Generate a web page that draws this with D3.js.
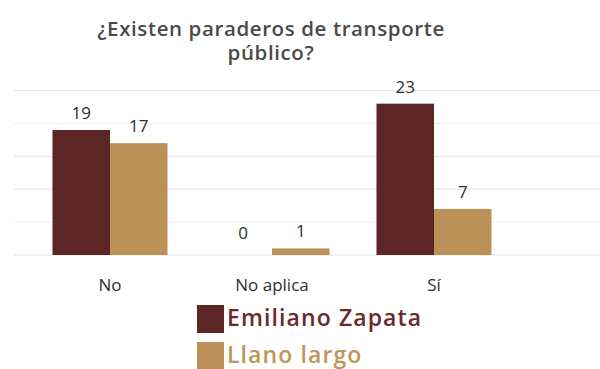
<!DOCTYPE html>
<html>
<head>
<meta charset="utf-8">
<script src="https://cdn.jsdelivr.net/npm/d3@7"></script>
<style>
  body { margin: 0; background: #fff; }
  svg { display: block; font-family: "Open Sans", sans-serif; }
</style>
</head>
<body>
<div id="chart"></div>
<script>
// data
let categories = ["No", "No aplica", "Sí"];
let series_names = ["Emiliano Zapata", "Llano largo"];
let emiliano_zapata = [19, 0, 23];
let llano_largo = [17, 1, 7];
let y_ticks = [0, 5, 10, 15, 20, 25];
let colors = ["#5c2627", "#bc9158"];

let width = 600, height = 369;

let svg = d3.select("#chart")
  .append("svg")
  .attr("width", width)
  .attr("height", height);

// scales
let x = d3.scaleBand()
  .domain(categories)
  .range([29, 515])
  .paddingInner(0.29)
  .paddingOuter(0.145);

let x_inner = d3.scaleBand()
  .domain(series_names)
  .range([0, x.bandwidth()]);

let y = d3.scaleLinear()
  .domain([0, 25])
  .range([255, 90.5]);

// gridlines
svg.append("g")
  .selectAll("line")
  .data(y_ticks)
  .enter()
  .append("line")
  .attr("x1", 14)
  .attr("x2", width)
  .attr("y1", d => y(d))
  .attr("y2", d => y(d))
  .attr("stroke", d => (d == 5 || d == 20) ? "#efefef" : "#e2e2e2")
  .attr("stroke-width", 1);

// title (two lines)
svg.selectAll(".title")
  .data(["¿Existen paraderos de transporte", "público?"])
  .enter()
  .append("text")
  .attr("class", "title")
  .attr("x", 271)
  .attr("y", (d, i) => 36 + i * 24)
  .attr("text-anchor", "middle")
  .style("font-size", "20.5px")
  .style("font-weight", 600)
  .style("letter-spacing", "0.6px")
  .style("fill", "#4a4a4a")
  .text(d => d);

// bars
let rows = categories.map((c, i) => ({
  cat: c,
  vals: [
    {name: series_names[0], v: emiliano_zapata[i]},
    {name: series_names[1], v: llano_largo[i]}
  ]
}));

let groups = svg.selectAll(".grp")
  .data(rows)
  .enter()
  .append("g")
  .attr("class", "grp")
  .attr("transform", d => "translate(" + x(d.cat) + ",0)");

groups.selectAll("rect")
  .data(d => d.vals)
  .enter()
  .append("rect")
  .attr("x", d => x_inner(d.name))
  .attr("width", x_inner.bandwidth())
  .attr("y", d => y(d.v))
  .attr("height", d => y(0) - y(d.v))
  .attr("fill", (d, i) => colors[i]);

groups.selectAll(".val")
  .data(d => d.vals)
  .enter()
  .append("text")
  .attr("class", "val")
  .attr("x", d => x_inner(d.name) + x_inner.bandwidth() / 2)
  .attr("y", d => y(d.v) - (d.v == 0 ? 16 : 11))
  .attr("text-anchor", "middle")
  .style("font-size", "17px")
  .style("fill", "#2e2e2e")
  .text(d => d.v);

// x axis labels
svg.append("g")
  .selectAll("text")
  .data(categories)
  .enter()
  .append("text")
  .attr("x", d => x(d) + x.bandwidth() / 2)
  .attr("y", 291)
  .attr("text-anchor", "middle")
  .style("font-size", "17px")
  .style("fill", "#2e2e2e")
  .text(d => d);

// legend
let legend = svg.selectAll(".leg")
  .data(series_names)
  .enter()
  .append("g")
  .attr("class", "leg")
  .attr("transform", (d, i) => "translate(197," + (305 + i * 37) + ")");

legend.append("rect")
  .attr("width", 27)
  .attr("height", 28)
  .attr("fill", (d, i) => colors[i]);

legend.append("text")
  .attr("x", 30)
  .attr("y", 21)
  .style("font-size", "23px")
  .style("font-weight", 600)
  .style("letter-spacing", "1.1px")
  .style("fill", (d, i) => i == 0 ? "#6a2a2b" : "#c09558")
  .text(d => d);
</script>
</body>
</html>
